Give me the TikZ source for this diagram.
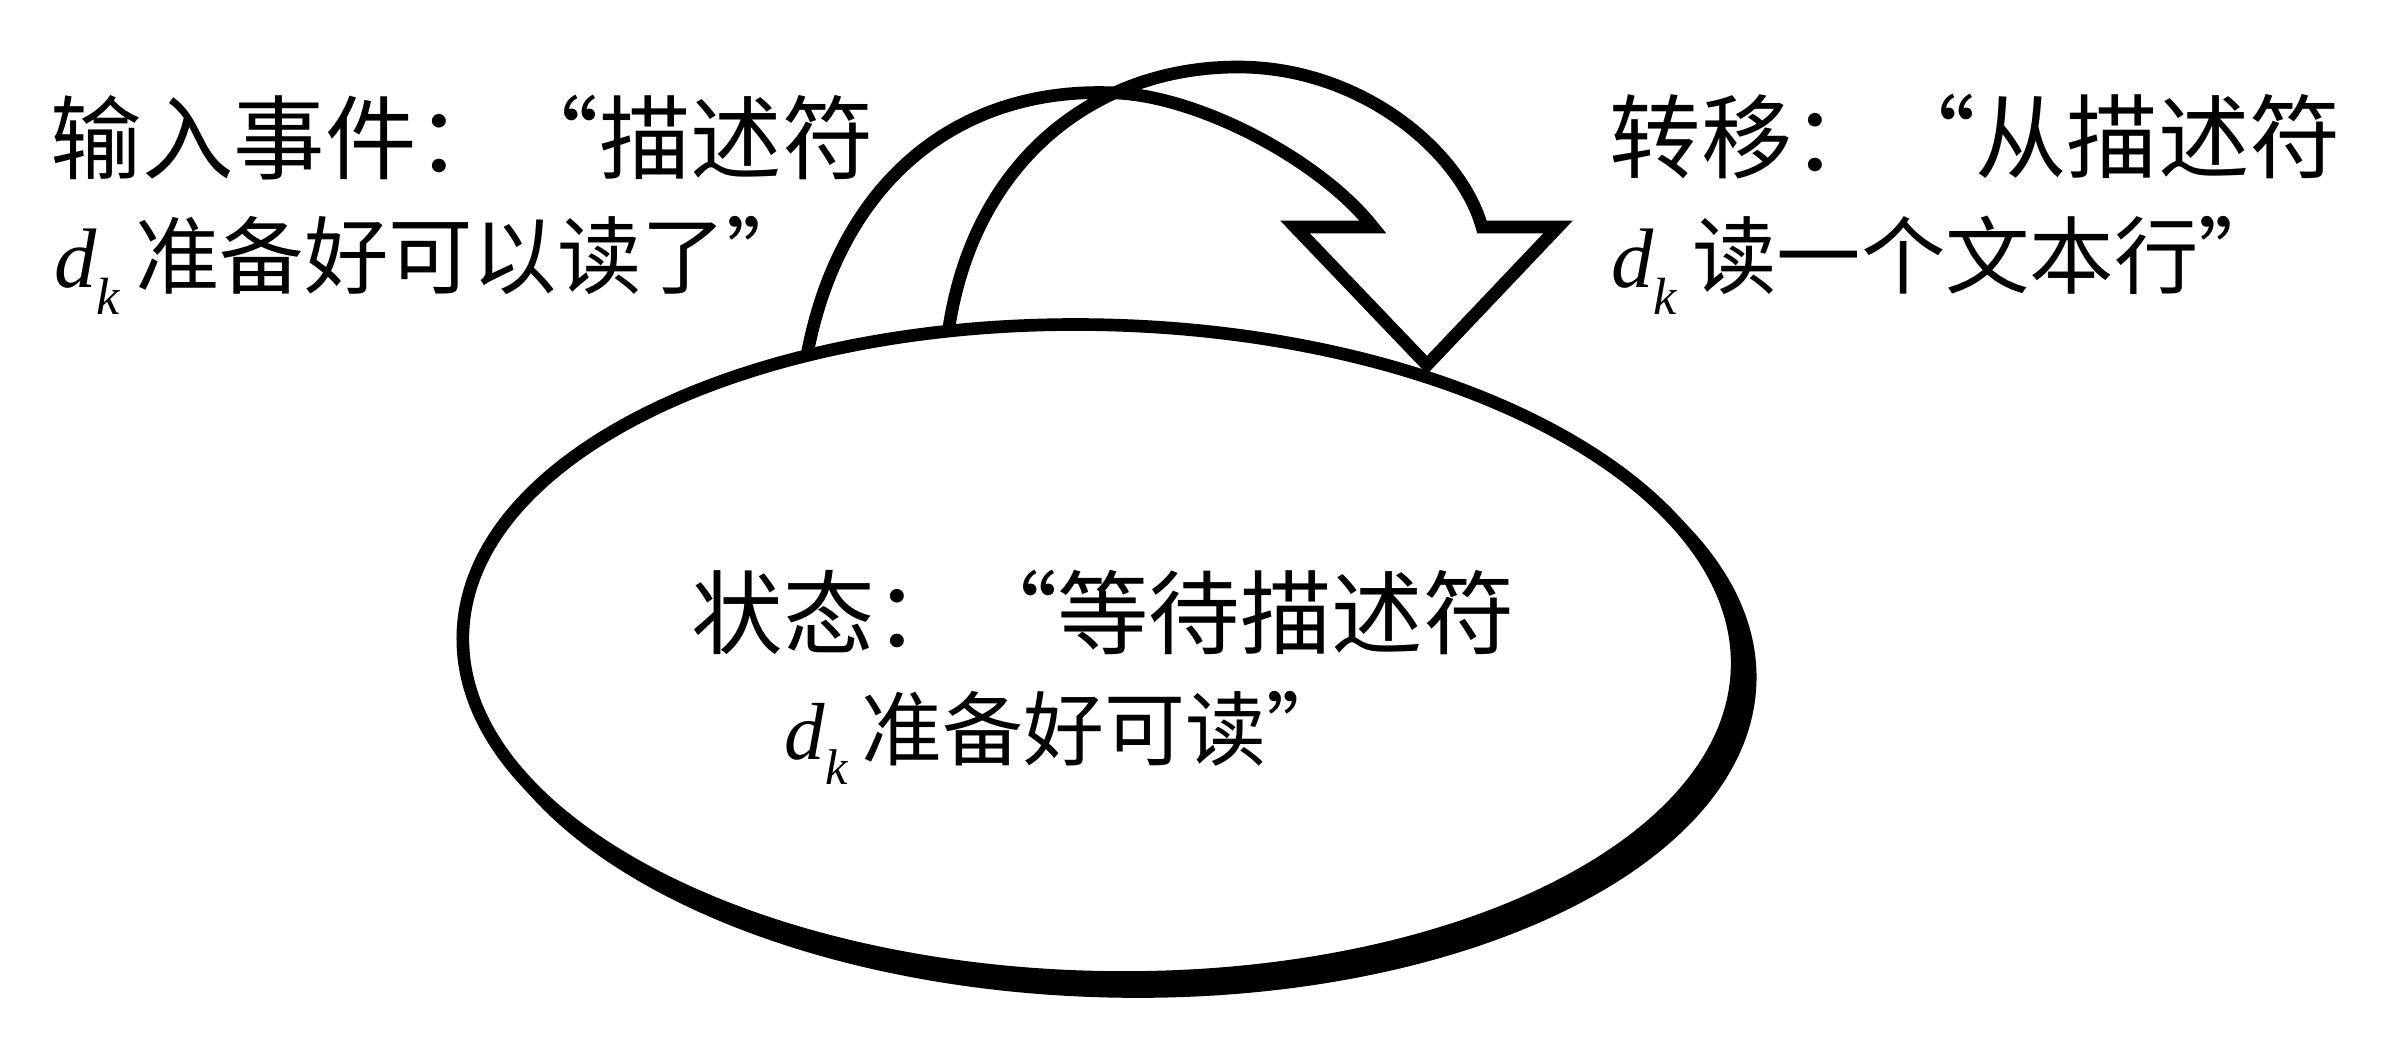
\documentclass[tikz,border=0pt]{standalone}
\usepackage{fontspec}
\setmainfont{Liberation Serif}
\newfontfamily\cjk{Noto Sans CJK SC}
\usetikzlibrary{shapes.geometric}
\newcommand{\dkay}{{\rmfamily\itshape d}\raisebox{-0.32em}{\scalebox{0.62}{\rmfamily\itshape k}}\hspace{0.18em}}
\begin{document}
\begin{tikzpicture}[x=0.01cm,y=-0.01cm,
  lbl/.style={inner sep=0pt, anchor=base west, font=\cjk\fontsize{26}{30}\selectfont},
  lblsm/.style={inner sep=0pt, anchor=base west, font=\cjk\fontsize{24}{28}\selectfont},
  oval/.style={ellipse, draw=black, line width=3.6pt, inner sep=0pt,
    minimum width=12.74cm, minimum height=6.52cm, rotate=-1.5},
  band/.style={draw=black, line width=3.6pt, line join=miter}]
\useasboundingbox (0,0) rectangle (2398,1042);
\fill[white] (0,0) rectangle (2398,1042);
% state ellipse with heavier lower-right rim
\node[oval, fill=black] (shadow) at (1113,665) {};
\node[oval, fill=white] (state) at (1100,651) {};
% twisted arrow band
\draw[band] (807,355) .. controls (840,180) and (960,85) .. (1117,93)
  .. controls (1200,97) and (1320,160) .. (1373,227)
  -- (1295,227) -- (1427,365) -- (1558,227) -- (1482,227)
  .. controls (1460,150) and (1360,67) .. (1238,67)
  .. controls (1095,67) and (975,160) .. (949,327);
% labels
\node[lbl] (in1) at (50,172) {输入事件：“描述符};
\node[lblsm] (in2) at (54,287) {\dkay 准备好可以读了”};
\node[lbl] (tr1) at (1609,171) {转移：“从描述符};
\node[lblsm] (tr2) at (1611,287) {\dkay 读一个文本行”};
\node[lbl] (st1) at (691,647) {状态：“等待描述符};
\node[lblsm, font=\cjk\fontsize{23}{27}\selectfont] (st2) at (784,759) {\dkay 准备好可读”};
\end{tikzpicture}
\end{document}
